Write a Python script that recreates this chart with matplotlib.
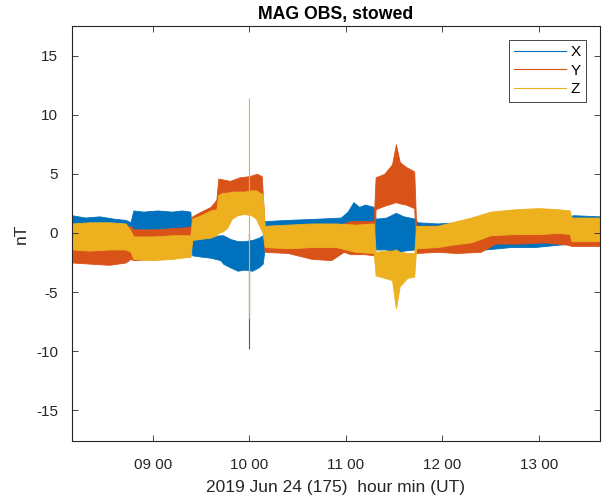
import numpy as np
import matplotlib.pyplot as plt

# envelopes of each magnetometer component, time in decimal hours UT, values in nT
x_t = [8.16, 8.30, 8.45, 8.60, 8.72, 8.77, 8.80, 8.90, 9.05, 9.20, 9.30, 9.39,
       9.41, 9.50, 9.60, 9.70, 9.73, 9.80, 9.88, 9.95, 10.03, 10.10, 10.14,
       10.16, 10.40, 10.70, 10.95, 11.02, 11.08, 11.14, 11.20, 11.29,
       11.31, 11.42, 11.52, 11.60, 11.72,
       11.74, 11.95, 12.20, 12.45, 12.70, 12.95, 13.20, 13.32, 13.35, 13.64]
x_hi = [1.5, 1.3, 1.4, 1.2, 1.1, 0.9, 1.9, 1.8, 1.9, 1.8, 1.9, 1.8,
        -0.3, -0.3, -0.3, -0.2, -0.2, -0.5, -0.7, -0.7, -0.6, -0.4, -0.2,
        1.0, 1.1, 1.2, 1.3, 1.8, 2.6, 2.2, 2.4, 2.2,
        1.2, 1.3, 1.7, 1.4, 1.2,
        0.9, 0.8, 0.9, 0.9, 0.9, 1.0, 1.0, 1.0, 1.5, 1.4]
x_lo = [-0.6, -0.6, -0.6, -0.6, -0.6, -0.6, 0.0, 0.0, 0.0, 0.0, 0.0, 0.0,
        -1.9, -2.0, -2.1, -2.3, -2.6, -2.9, -3.2, -3.1, -3.2, -2.9, -2.6,
        -1.3, -1.2, -1.3, -1.2, -1.2, -1.1, -1.1, -1.1, -1.1,
        -1.4, -1.4, -1.8, -1.5, -1.4,
        -1.3, -1.3, -1.3, -1.4, -1.2, -1.2, -1.0, -0.9, -0.9, -0.9]

y_t = [8.16, 8.35, 8.55, 8.72, 8.77, 8.80, 9.00, 9.20, 9.39,
       9.41, 9.50, 9.60, 9.66, 9.68, 9.80, 9.90, 10.00, 10.08, 10.13,
       10.16, 10.40, 10.65, 10.85, 10.98, 11.05, 11.20, 11.29,
       11.31, 11.40, 11.48, 11.52, 11.56, 11.62, 11.71,
       11.73, 11.95, 12.15, 12.40, 12.55, 12.80, 13.05, 13.30, 13.34, 13.64]
y_hi = [0.4, 0.4, 0.5, 0.5, 0.6, 0.3, 0.3, 0.4, 0.5,
        1.4, 1.8, 2.2, 2.8, 4.6, 4.4, 4.7, 4.8, 5.0, 4.8,
        0.5, 0.5, 0.5, 0.6, 0.8, 1.0, 1.0, 1.0,
        4.7, 5.0, 5.8, 7.5, 6.0, 5.6, 5.2,
        0.6, 0.6, 0.8, 1.0, 1.5, 1.6, 1.7, 1.6, 1.0, 1.0]
y_lo = [-2.5, -2.6, -2.7, -2.5, -2.2, -2.3, -2.2, -2.1, -2.0,
        -0.5, -0.3, 0.0, 0.5, 2.2, 2.2, 2.2, 2.2, 2.2, 2.2,
        -1.6, -1.7, -2.2, -2.3, -1.6, -1.8, -1.8, -1.9,
        2.0, 2.3, 2.5, 2.6, 2.5, 2.4, 2.1,
        -1.7, -1.6, -1.7, -1.6, -0.9, -0.9, -0.8, -1.0, -1.1, -1.1]

z_t = [8.16, 8.35, 8.55, 8.72, 8.77, 8.80, 9.00, 9.20, 9.39,
       9.41, 9.50, 9.60, 9.66, 9.68, 9.72, 9.77, 9.82, 9.88, 9.95, 10.02,
       10.07, 10.11, 10.14,
       10.16, 10.40, 10.65, 10.90, 11.10, 11.29,
       11.31, 11.40, 11.48, 11.52, 11.56, 11.64, 11.71,
       11.73, 11.95, 12.10, 12.30, 12.50, 12.75, 13.00, 13.20, 13.32, 13.34, 13.64]
z_hi = [0.8, 0.9, 0.9, 0.8, 0.2, -0.3, -0.3, -0.2, -0.2,
        1.2, 1.5, 1.9, 2.0, 3.2, 3.4, 3.4, 3.5, 3.5, 3.5, 3.6,
        3.6, 3.4, 3.3,
        0.6, 0.7, 0.8, 0.8, 0.7, 0.8,
        -1.6, -1.5, -1.5, -1.4, -1.6, -1.7, -1.7,
        0.6, 0.6, 0.9, 1.3, 1.8, 2.0, 2.1, 2.0, 1.9, 1.3, 1.3]
z_lo = [-1.4, -1.5, -1.4, -1.4, -1.6, -2.2, -2.3, -2.2, -2.0,
        -0.6, -0.5, -0.4, -0.2, 0.0, 0.1, 0.4, 1.2, 1.5, 1.6, 1.5,
        1.2, 0.5, 0.0,
        -1.2, -1.3, -1.2, -1.2, -1.6, -1.7,
        -3.6, -3.8, -4.0, -6.4, -4.5, -3.8, -3.7,
        -1.3, -1.2, -1.0, -0.8, -0.2, -0.1, -0.1, 0.0, -0.1, -0.7, -0.7]

# single-sample glitch at 10:00
spike_t = 10.0
spike_x = [-9.8, 0.0]
spike_y = [-7.4, 0.0]
spike_z = [-7.2, 11.4]

names = ['X', 'Y', 'Z']
colors = ['#0072BD', '#D95319', '#EDB120']
hour_ticks = [9, 10, 11, 12, 13]
hour_labels = ['09 00', '10 00', '11 00', '12 00', '13 00']
y_ticks = [-15, -10, -5, 0, 5, 10, 15]

plt.rcParams['font.family'] = ['Liberation Sans', 'DejaVu Sans']
plt.rcParams['axes.unicode_minus'] = False

fig = plt.figure(figsize=(6.06, 4.99), dpi=100)
ax = fig.add_axes([72 / 606, 58 / 499, 528 / 606, 415 / 499])

bands = [(x_t, x_lo, x_hi), (y_t, y_lo, y_hi), (z_t, z_lo, z_hi)]
for (t, lo, hi), c, n in zip(bands, colors, names):
    ax.fill_between(t, lo, hi, color=c, lw=0.6, edgecolor=c)
    ax.plot([], [], color=c, lw=0.8, label=n)

for vals, c in zip([spike_x, spike_y, spike_z], colors):
    ax.vlines(spike_t, vals[0], vals[1], color=c, lw=0.8)

ax.set_xlim(8.164, 13.635)
ax.set_ylim(-17.6, 17.5)
ax.set_xticks(hour_ticks)
ax.set_xticklabels(hour_labels)
ax.set_yticks(y_ticks)

dark = '#262626'
for s in ax.spines.values():
    s.set_color(dark)
    s.set_linewidth(0.8)
ax.tick_params(direction='in', length=4, width=0.6, top=True, right=True,
               colors=dark, labelsize=11)
ax.tick_params(axis='x', pad=12)
ax.tick_params(axis='y', pad=10)

ax.set_title('MAG OBS, stowed', fontsize=12.7, fontweight='bold', pad=5)
ax.set_xlabel('2019 Jun 24 (175)  hour min (UT)', fontsize=12.5, color=dark, labelpad=6)
ax.set_ylabel('nT', fontsize=12.5, color=dark, labelpad=5)

leg = ax.legend(loc='upper right', fontsize=11, frameon=True, fancybox=False,
                handlelength=3.4, handletextpad=0.3, borderpad=0.35,
                labelspacing=0.3, borderaxespad=0.9)
leg.get_frame().set_edgecolor(dark)
leg.get_frame().set_linewidth(0.6)
leg.get_frame().set_alpha(1)

fig.savefig('out.png', dpi=100)
